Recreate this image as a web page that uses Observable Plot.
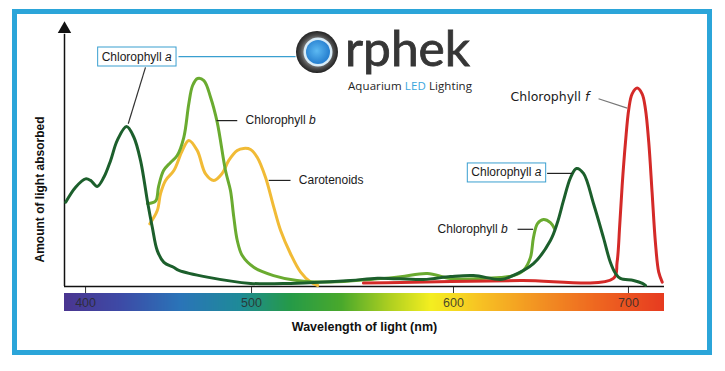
<!DOCTYPE html>
<html><head><meta charset="utf-8">
<script src="https://cdn.jsdelivr.net/npm/d3@7"></script>
<script src="https://cdn.jsdelivr.net/npm/@observablehq/plot@0.6"></script>
<style>
html,body{margin:0;padding:0;background:#fff;}
#wrap{position:relative;width:725px;height:371px;overflow:hidden;background:#fff;}
#wrap svg{position:absolute;left:0;top:0;}
#border{position:absolute;left:12px;top:9px;width:690px;height:336px;border:5px solid #2ba5d9;z-index:5;}
</style></head><body><div id="wrap"><div id="border"></div></div>
<script>
// ---- data (wavelength in nm, amount absorbed in relative %) ----
const tickValues = [400, 500, 600, 700];
const spectrumStart = 387.3, spectrumEnd = 720.6;

const chlorophyllA = [[388.0,32.4],[394.0,38.2],[400.0,41.4],[403.0,40.8],[407.0,38.5],[411.0,42.0],[415.1,48.5],[419.1,56.2],[424.7,61.5],[429.1,57.4],[433.1,48.5],[437.5,31.9],[440.2,22.8],[443.2,13.8],[447.2,9.3],[453.0,7.4],[456.2,6.2],[473.3,3.6],[499.4,1.2],[519.3,1.2],[549.0,2.3],[562.4,3.2],[585.1,2.7],[598.5,3.8],[611.4,4.2],[626.9,2.7],[632.6,3.8],[645.7,8.8],[655.4,17.7],[659.4,24.6],[662.9,33.1],[666.9,41.9],[670.3,45.4],[674.3,43.5],[680.0,31.9],[685.7,18.8],[689.7,9.2],[692.6,5.0],[695.4,3.1],[702.9,2.3],[708.0,1.2],[709.7,0.4]];

const chlorophyllB = [[437.3,31.9],[442.2,32.9],[444.0,38.5],[447.0,44.6],[451.2,47.7],[455.2,50.4],[459.2,57.4],[462.2,70.3],[464.5,77.3],[467.5,80.0],[471.3,79.2],[475.3,72.8],[479.3,63.2],[484.3,44.6],[487.3,36.9],[489.3,26.7],[491.4,17.7],[494.4,11.9],[501.1,7.4],[510.9,4.2],[522.5,2.3],[539.1,1.7],[558.9,2.7],[573.8,3.8],[587.1,5.0],[598.5,3.1],[615.4,3.1],[626.9,3.5],[634.3,4.2],[640.0,6.2],[644.0,11.2],[645.7,18.8],[648.0,24.2],[651.4,25.8],[655.4,24.6],[657.7,22.3]];

const carotenoids = [[438.7,24.1],[443.2,29.2],[445.2,35.8],[448.2,40.8],[453.2,44.6],[458.3,52.3],[462.2,56.2],[467.3,52.3],[472.3,43.3],[477.3,40.8],[482.3,43.5],[486.3,48.5],[491.4,52.3],[495.2,53.1],[499.4,52.7],[502.8,49.7],[506.9,42.0],[511.0,30.5],[514.4,21.5],[519.3,12.6],[524.3,5.5],[529.2,1.7],[532.8,0.4]];

const chlorophyllF = [[555.4,1.3],[573.8,1.5],[598.5,1.9],[638.3,2.3],[691.4,3.1],[693.5,9.3],[695.0,23.5],[696.4,38.8],[698.3,55.5],[700.2,68.3],[702.1,74.1],[705.0,76.3],[707.8,74.1],[709.7,68.3],[711.6,55.5],[713.5,36.3],[715.4,17.0],[717.3,5.5],[719.3,1.7]];

const spectrumStops = [387, 421, 457, 493, 519, 544, 569, 589, 615, 650, 684, 721];
const spectrumColors = ["#4a3590", "#3d4aa6", "#2a74b8", "#1e8a98", "#259a48", "#48a82c", "#b0d020", "#f4ee20", "#f7c223", "#f29022", "#ee6420", "#e63a20"];

const plainLabels = [
  {text: "Chlorophyll b", nm: 496.4, amt: 63.8},
  {text: "Carotenoids", nm: 523.4, amt: 40.8},
  {text: "Chlorophyll b", nm: 592.1, amt: 22.0}
];
const boxedLabels = [
  {text: "Chlorophyll a", nm: 430.8, amt: 88.4},
  {text: "Chlorophyll a", nm: 630.2, amt: 43.8}
];
const fLabel = [{text: "Chlorophyll f", nm: 632.6, amt: 72.8}];

const leaders = [
  {x1: 436.1, y1: 84.3, x2: 425.7, y2: 62.6, c: "#333333"},
  {x1: 456.0, y1: 88.4, x2: 521.8, y2: 88.4, c: "#3a9fd0"},
  {x1: 478.9, y1: 63.8, x2: 491.4, y2: 63.8, c: "#222222"},
  {x1: 508.5, y1: 40.8, x2: 519.3, y2: 40.8, c: "#222222"},
  {x1: 682.9, y1: 72.2, x2: 699.3, y2: 68.6, c: "#777777"},
  {x1: 653.5, y1: 43.5, x2: 667.8, y2: 43.5, c: "#222222"},
  {x1: 636.6, y1: 22.0, x2: 645.5, y2: 22.0, c: "#222222"}
];

// ---- the reference's wavelength axis is not evenly spaced: warp nm onto a display axis ----
const warp = d3.scaleLinear().domain([400, 500, 600, 700]).range([21, 187, 389, 564]);
const W = d => warp(d);

const spectrum = d3.scaleLinear().domain(spectrumStops).range(spectrumColors).clamp(true);
const barSteps = d3.range(spectrumStart, spectrumEnd, 0.5);

const chart = Plot.plot({
  width: 725, height: 371,
  marginLeft: 64, marginRight: 61, marginTop: 22, marginBottom: 85,
  x: {domain: [W(spectrumStart), W(spectrumEnd)], axis: null},
  y: {domain: [0, 100], range: [286, 26], axis: null},
  style: {fontFamily: "'Liberation Sans', Arial, sans-serif", fontSize: "12px", background: "transparent", overflow: "visible"},
  marks: [
    Plot.rect(barSteps, {x1: d => W(d), x2: d => W(Math.min(d + 0.7, spectrumEnd)), y1: -2.7, y2: -9.6, fill: d => spectrum(d), shapeRendering: "crispEdges"}),
    Plot.axisX(tickValues.map(W), {tickSize: 7, tickPadding: 5, fontSize: 12.5, stroke: "#333", fill: "#2a2a2a", fillOpacity: 0.85, label: null, tickFormat: d => String(Math.round(warp.invert(d)))}),
    Plot.ruleY([0], {stroke: "#111", strokeWidth: 1.5}),
    Plot.ruleX([W(spectrumStart)], {y1: 0, y2: 97, stroke: "#111", strokeWidth: 1.5}),
    Plot.dot([W(spectrumStart)], {x: d => d, y: 99, symbol: "triangle", r: 5, fill: "#111", stroke: null}),
    Plot.line(carotenoids, {x: d => W(d[0]), y: d => d[1], stroke: "#f1bb36", strokeWidth: 3, curve: "catmull-rom"}),
    Plot.line(chlorophyllB, {x: d => W(d[0]), y: d => d[1], stroke: "#6aab30", strokeWidth: 3, curve: "catmull-rom"}),
    Plot.line(chlorophyllF, {x: d => W(d[0]), y: d => d[1], stroke: "#d42a28", strokeWidth: 3, curve: "catmull-rom"}),
    Plot.line(chlorophyllA, {x: d => W(d[0]), y: d => d[1], stroke: "#1c5f2c", strokeWidth: 3, curve: "catmull-rom"}),
    Plot.link(leaders, {x1: d => W(d.x1), y1: "y1", x2: d => W(d.x2), y2: "y2", stroke: d => d.c, strokeWidth: 1.2}),
    Plot.text(plainLabels, {x: d => W(d.nm), y: "amt", text: "text", textAnchor: "start", fill: "#1a1a1a", fontSize: 12}),
    Plot.text(boxedLabels, {x: d => W(d.nm), y: "amt", text: "text", textAnchor: "middle", fill: "#1a1a1a", fontSize: 12}),
    Plot.text(fLabel, {x: d => W(d.nm), y: "amt", text: "text", textAnchor: "start", fill: "#1a1a1a", fontSize: 12.5, fontFamily: "'DejaVu Sans', sans-serif"}),
    Plot.text(["Wavelength of light (nm)"], {frameAnchor: "bottom", dy: 44, fontWeight: "bold", fontSize: 12.5, fill: "#111"}),
    Plot.text(["Amount of light absorbed"], {frameAnchor: "left", rotate: -90, dx: -24, dy: 35, textAnchor: "middle", fontWeight: "bold", fontSize: 12, fill: "#111"})
  ]
});

const wrap = document.getElementById("wrap");
wrap.insertBefore(chart, wrap.firstChild);
const svg = d3.select(chart);

// boxes around the "Chlorophyll a" labels (collect before restyling text)
const boxedTexts = [];
svg.selectAll("text").each(function () {
  if (this.textContent === "Chlorophyll a") boxedTexts.push(this);
});

// italic variable letters
svg.selectAll("text").each(function () {
  if (this.querySelector("tspan")) return;
  const m = /^(Chlorophyll\s+)([abf])$/.exec(this.textContent);
  if (!m) return;
  this.textContent = "";
  d3.select(this).append("tspan").text(m[1]);
  d3.select(this).append("tspan").attr("font-style", "italic").text(m[2]);
});

boxedTexts.forEach(function (t) {
  const b = t.getBBox();
  const r = document.createElementNS("http://www.w3.org/2000/svg", "rect");
  r.setAttribute("x", b.x - 4);
  r.setAttribute("y", b.y - 2.5);
  r.setAttribute("width", b.width + 8);
  r.setAttribute("height", b.height + 5);
  r.setAttribute("fill", "#fff");
  r.setAttribute("stroke", "#3a9fd0");
  r.setAttribute("stroke-width", "1");
  const tr = t.getAttribute("transform");
  if (tr) r.setAttribute("transform", tr);
  t.parentNode.insertBefore(r, t);
});

// logo
const defs = svg.append("defs");
const g1 = defs.append("radialGradient").attr("id", "ring");
g1.append("stop").attr("offset", "55%").attr("stop-color", "#9a9a9a");
g1.append("stop").attr("offset", "80%").attr("stop-color", "#4a4a4a");
g1.append("stop").attr("offset", "100%").attr("stop-color", "#222");
const g2 = defs.append("radialGradient").attr("id", "lens").attr("cx", "45%").attr("cy", "45%");
g2.append("stop").attr("offset", "0%").attr("stop-color", "#5cb9f2");
g2.append("stop").attr("offset", "100%").attr("stop-color", "#2a83d2");
const logo = svg.append("g").attr("class", "logo").attr("text-anchor", "start");
logo.append("circle").attr("cx", 317).attr("cy", 52).attr("r", 21).attr("fill", "url(#ring)");
logo.append("circle").attr("cx", 318).attr("cy", 52).attr("r", 14.5).attr("fill", "#d8ecf8");
logo.append("circle").attr("cx", 318).attr("cy", 52).attr("r", 12).attr("fill", "url(#lens)");
logo.append("text").attr("x", 345).attr("y", 66).attr("font-family", "Lato, 'Open Sans', sans-serif")
  .attr("font-size", 48).attr("fill", "#363636").attr("stroke", "#363636").attr("stroke-width", 0.8)
  .attr("textLength", 125).attr("lengthAdjust", "spacingAndGlyphs").text("rphek");
const tag = logo.append("text").attr("x", 348).attr("y", 90).attr("font-family", "'Open Sans', sans-serif")
  .attr("font-size", 11.5).attr("fill", "#1e1e1e").attr("textLength", 124);
tag.append("tspan").text("Aquarium ");
tag.append("tspan").attr("fill", "#3aa6dc").text("LED");
tag.append("tspan").text(" Lighting");
</script>
</body></html>
